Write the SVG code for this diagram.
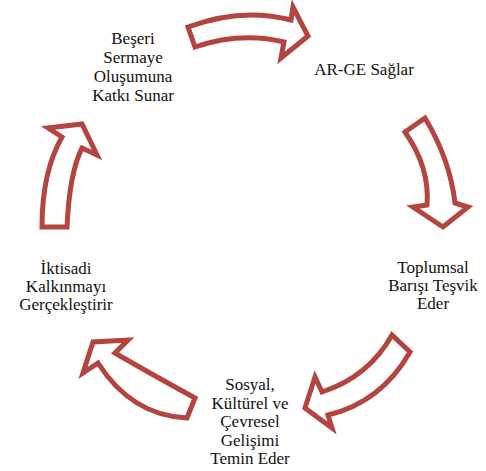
<svg xmlns="http://www.w3.org/2000/svg" width="486" height="471" viewBox="0 0 486 471">
<style>
.arr{fill:#ffffff;stroke:#B3443F;stroke-width:5;stroke-linejoin:miter}
.t{font-family:"Liberation Serif","Times New Roman",serif;font-size:17px;fill:#111111;text-anchor:middle}
</style>
<rect width="486" height="471" fill="#ffffff"/>
<g id="connectors">
<path class="arr" d="M188,27 Q241.5,7 291,20 L293,7 L308,36 L281,58 L284,42 Q240.5,31.5 195,47 Z"/>
<path class="arr" d="M405,132 L425,118 Q450,159.5 455,203 L468,207 L443,227 L413,207 L427,205 Q430,167.5 405,132 Z"/>
<path class="arr" d="M392,335 L410,352 Q381,402.5 328,415 L332,428 L305,408 L315,377 L322,392 Q369,376.5 392,335 Z"/>
<path class="arr" d="M195,398 L187,418 Q131.5,415.5 98,363 L83,373 L93,342 L128,340 L115,353 Q145,370.5 195,398 Z"/>
<path class="arr" d="M42,227 L67,227 Q69.5,172.5 82,148 L97,155 L82,124 L48,128 L62,137 Q42,172 42,227 Z"/>
</g>
<g id="node-arge"><text class="t" x="364" y="75">AR-GE Sağlar</text></g>
<g id="node-toplumsal"><text class="t" x="433" y="273">Toplumsal</text><text class="t" x="433" y="291">Barışı Teşvik</text><text class="t" x="433" y="309">Eder</text></g>
<g id="node-sosyal"><text class="t" x="250" y="390">Sosyal,</text><text class="t" x="250" y="409">Kültürel ve</text><text class="t" x="250" y="427">Çevresel</text><text class="t" x="250" y="446">Gelişimi</text><text class="t" x="250" y="464">Temin Eder</text></g>
<g id="node-iktisadi"><text class="t" x="66" y="274">İktisadi</text><text class="t" x="66" y="292">Kalkınmayı</text><text class="t" x="66" y="310">Gerçekleştirir</text></g>
<g id="node-beseri"><text class="t" x="133" y="44">Beşeri</text><text class="t" x="133" y="63">Sermaye</text><text class="t" x="133" y="82">Oluşumuna</text><text class="t" x="133" y="101">Katkı Sunar</text></g>
</svg>
